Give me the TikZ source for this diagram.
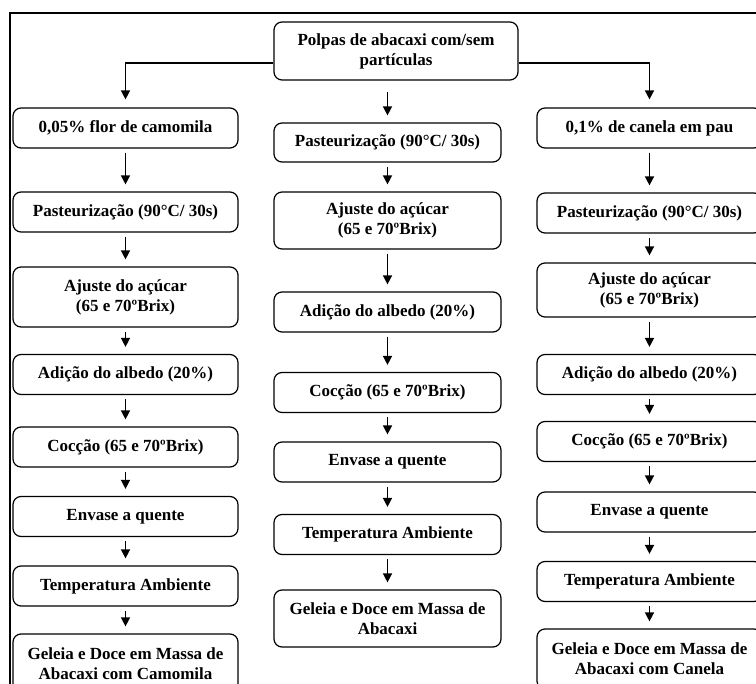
\documentclass[tikz,border=0pt]{standalone}
\usepackage{fontspec}
\setmainfont{Liberation Serif}
\usetikzlibrary{arrows.meta}

\begin{document}
\begin{tikzpicture}[x=1pt, y=-1pt, line width=1.2pt,
    etapa/.style={draw, rounded corners=8pt, align=center, inner sep=2pt,
        minimum width=225pt, minimum height=40pt,
        font=\fontsize{17}{20}\selectfont\bfseries},
    seta/.style={-{Triangle[width=9pt,length=9pt]}, line width=1.5pt,
        shorten <=4pt, shorten >=7pt}]
    \path[use as bounding box, clip] (0,0) rectangle (756,684);

    % moldura
    \draw[line width=2pt] (800,13) -- (10,13) -- (10,720);

    % polpa
    \node[etapa, minimum width=244pt, minimum height=58pt] (polpa) at (396,51)
        {Polpas de abacaxi com/sem\\partículas};

    % camomila
    \node[etapa] (cam1) at (125.5,128) {0,05\% flor de camomila};
    \node[etapa] (cam2) at (125.5,212) {Pasteurização (90°C/ 30s)};
    \node[etapa, minimum height=60pt] (cam3) at (125.5,297) {Ajuste do açúcar\\(65 e 70ºBrix)};
    \node[etapa] (cam4) at (125.5,374.5) {Adição do albedo (20\%)};
    \node[etapa] (cam5) at (125.5,447) {Cocção (65 e 70ºBrix)};
    \node[etapa] (cam6) at (125.5,516.5) {Envase a quente};
    \node[etapa] (cam7) at (125.5,586) {Temperatura Ambiente};
    \node[etapa, minimum height=60pt] (cam8) at (125.5,664) {Geleia e Doce em Massa de\\Abacaxi com Camomila};

    % sem especiaria
    \node[etapa, minimum width=227pt, minimum height=39pt] (pur1) at (387.5,142.5) {Pasteurização (90°C/ 30s)};
    \node[etapa, minimum width=227pt, minimum height=57pt] (pur2) at (387.5,220.5) {Ajuste do açúcar\\(65 e 70ºBrix)};
    \node[etapa, minimum width=227pt] (pur3) at (387.5,312) {Adição do albedo (20\%)};
    \node[etapa, minimum width=227pt] (pur4) at (387.5,392.5) {Cocção (65 e 70ºBrix)};
    \node[etapa, minimum width=227pt] (pur5) at (387.5,462) {Envase a quente};
    \node[etapa, minimum width=227pt] (pur6) at (387.5,534.5) {Temperatura Ambiente};
    \node[etapa, minimum width=227pt, minimum height=57pt] (pur7) at (387.5,618.5) {Geleia e Doce em Massa de\\Abacaxi};

    % canela
    \node[etapa] (can1) at (649.5,128) {0,1\% de canela em pau};
    \node[etapa] (can2) at (649.5,213) {Pasteurização (90°C/ 30s)};
    \node[etapa, minimum height=54pt] (can3) at (649.5,290) {Ajuste do açúcar\\(65 e 70ºBrix)};
    \node[etapa] (can4) at (649.5,374.5) {Adição do albedo (20\%)};
    \node[etapa] (can5) at (649.5,441.5) {Cocção (65 e 70ºBrix)};
    \node[etapa] (can6) at (649.5,512) {Envase a quente};
    \node[etapa] (can7) at (649.5,581.5) {Temperatura Ambiente};
    \node[etapa, minimum height=60pt] (can8) at (649.5,659) {Geleia e Doce em Massa de\\Abacaxi com Canela};

    % ramificações
    \draw[seta, shorten <=0pt, shorten >=8pt] ([yshift=-12pt]polpa.west) -| (cam1.north);
    \draw[seta, shorten <=0pt, shorten >=8pt] ([yshift=-12pt]polpa.east) -| (can1.north);
    \draw[seta, shorten <=11pt] (polpa.south -| pur1.north) -- (pur1.north);

    % fluxos
    \foreach \a/\b in {cam1/cam2, cam2/cam3, cam3/cam4, cam4/cam5, cam5/cam6, cam6/cam7, cam7/cam8,
        pur1/pur2, pur2/pur3, pur3/pur4, pur4/pur5, pur5/pur6, pur6/pur7,
        can1/can2, can2/can3, can3/can4, can4/can5, can5/can6, can6/can7, can7/can8}
        \draw[seta] (\a) -- (\b);
\end{tikzpicture}
\end{document}
